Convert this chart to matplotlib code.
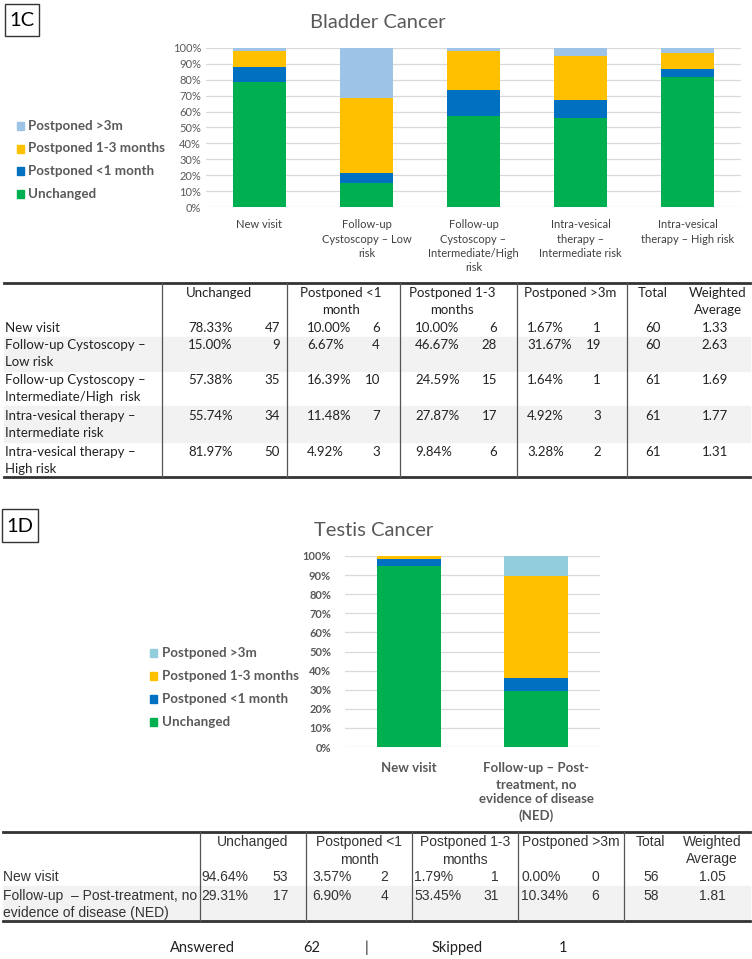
import numpy as np
import matplotlib.pyplot as plt
from matplotlib.patches import Rectangle

W, H = 752, 959

# series order bottom -> top
series = ['Unchanged', 'Postponed <1 month', 'Postponed 1-3 months', 'Postponed >3m']
colors_c = ['#00B050', '#0070C0', '#FFC000', '#9DC3E6']
colors_d = ['#00B050', '#0070C0', '#FFC000', '#92CDDC']

# 1C bladder
bladder_cats = ['New visit', 'Follow-up\nCystoscopy – Low\nrisk',
                'Follow-up\nCystoscopy –\nIntermediate/High\nrisk',
                'Intra-vesical\ntherapy –\nIntermediate risk',
                'Intra-vesical\ntherapy – High risk']
bladder_rows = ['New visit', 'Follow-up Cystoscopy –\nLow risk',
                'Follow-up Cystoscopy –\nIntermediate/High  risk',
                'Intra-vesical therapy –\nIntermediate risk',
                'Intra-vesical therapy –\nHigh risk']
bladder_unchanged = [78.33, 15.00, 57.38, 55.74, 81.97]
bladder_lt1 = [10.00, 6.67, 16.39, 11.48, 4.92]
bladder_1to3 = [10.00, 46.67, 24.59, 27.87, 9.84]
bladder_gt3 = [1.67, 31.67, 1.64, 4.92, 3.28]
bladder_n_unchanged = [47, 9, 35, 34, 50]
bladder_n_lt1 = [6, 4, 10, 7, 3]
bladder_n_1to3 = [6, 28, 15, 17, 6]
bladder_n_gt3 = [1, 19, 1, 3, 2]
bladder_total = [60, 60, 61, 61, 61]
bladder_wavg = ['1.33', '2.63', '1.69', '1.77', '1.31']

# 1D testis
testis_cats = ['New visit', 'Follow-up – Post-\ntreatment, no\nevidence of disease\n(NED)']
testis_rows = ['New visit', 'Follow-up  – Post-treatment, no\nevidence of disease (NED)']
testis_unchanged = [94.64, 29.31]
testis_lt1 = [3.57, 6.90]
testis_1to3 = [1.79, 53.45]
testis_gt3 = [0.00, 10.34]
testis_n_unchanged = [53, 17]
testis_n_lt1 = [2, 4]
testis_n_1to3 = [1, 31]
testis_n_gt3 = [0, 6]
testis_total = [56, 58]
testis_wavg = ['1.05', '1.81']

answered = 62
skipped = 1

CAL = ['Lato', 'DejaVu Sans']
ARI = ['Liberation Sans', 'DejaVu Sans']
GREY = '#595959'

fig = plt.figure(figsize=(W / 100, H / 100), dpi=100)
ov = fig.add_axes([0, 0, 1, 1], zorder=-1)
ov.set_xlim(0, W)
ov.set_ylim(H, 0)
ov.axis('off')


def ax_px(left, right, top, bottom):
    return fig.add_axes([left / W, 1 - bottom / H, (right - left) / W, (bottom - top) / H])


def lines(x, y0, s, dy, **kw):
    for i, t in enumerate(s.split('\n')):
        ov.text(x, y0 + i * dy, t, va='center', **kw)


def stacked(ax, cats, data, cols, tick_kw):
    x = np.arange(len(cats))
    bottom = np.zeros(len(cats))
    for vals, c, name in zip(data, cols, series):
        v = np.array(vals) / 100
        ax.bar(x, v, 0.5, bottom=bottom, color=c, label=name, zorder=3)
        bottom += v
    ax.set_xlim(-0.5, len(cats) - 0.5)
    ax.set_ylim(0, 1)
    ax.set_yticks(np.arange(0, 1.01, 0.1))
    ax.set_yticklabels(['%d%%' % p for p in range(0, 101, 10)])
    ax.grid(axis='y', color='#d9d9d9', lw=0.9, zorder=0)
    for s in ax.spines.values():
        s.set_visible(False)
    ax.tick_params(length=0, colors=GREY)
    ax.set_xticks(x)
    ax.set_xticklabels(cats, linespacing=1.35, **tick_kw)
    for t in ax.get_yticklabels():
        t.set_fontfamily(CAL)
        t.set_fontsize(8)
        t.set_fontweight(tick_kw.get('fontweight', 'normal'))
    ax.set_facecolor('none')


# ---------- 1C ----------
ov.add_patch(Rectangle((5, 4), 34, 32, fill=False, ec='#333333', lw=1))
ov.text(22, 20, '1C', ha='center', va='center', fontsize=14.5, family=CAL)
ov.text(378, 22, 'Bladder Cancer', ha='center', va='center', fontsize=14.5,
        family=CAL, color=GREY)
ax1 = ax_px(206, 741, 48, 207)
stacked(ax1, bladder_cats,
        [bladder_unchanged, bladder_lt1, bladder_1to3, bladder_gt3], colors_c,
        dict(fontsize=8, family=CAL, color='#404040'))
ax1.tick_params(axis='x', pad=9)

for i, (name, c) in enumerate(reversed(list(zip(series, colors_c)))):
    y = 126 + i * 22.5
    ov.add_patch(Rectangle((17, y - 4), 7, 8, color=c))
    ov.text(28, y, name, va='center', fontsize=9.6, family=CAL, weight='bold', color=GREY)

# table 1C
ov.plot([4, 750], [283, 283], color='#333333', lw=2)
ov.plot([4, 750], [477, 477], color='#333333', lw=2)
row_bands = [(337, 371), (406, 442)]
for a, b in row_bands:
    ov.add_patch(Rectangle((4, a), 746, b - a, color='#f2f2f2', zorder=0))
for xv in [162, 287, 400, 517, 627]:
    ov.plot([xv, xv], [283, 477], color='#555555', lw=0.9)
tk = dict(fontsize=9.5, family=CAL, color='#222222')
heads = ['Unchanged', 'Postponed <1\nmonth', 'Postponed 1-3\nmonths', 'Postponed >3m',
         'Total', 'Weighted\nAverage']
head_x = [219, 341, 452, 570, 653, 718]
for hx, h in zip(head_x, heads):
    lines(hx, 293, h, 16.5, ha='center', **tk)
row_y = [328, 345, 380, 416, 452]
pct_x = [188, 307, 415, 527]
cnt_x = [280, 380, 497, 601]
for r, y in enumerate(row_y):
    lines(5, y, bladder_rows[r], 17, ha='left', **tk)
    pcts = [bladder_unchanged[r], bladder_lt1[r], bladder_1to3[r], bladder_gt3[r]]
    cnts = [bladder_n_unchanged[r], bladder_n_lt1[r], bladder_n_1to3[r], bladder_n_gt3[r]]
    for px, p in zip(pct_x, pcts):
        ov.text(px, y, '%.2f%%' % p, ha='left', va='center', **tk)
    for cx, n in zip(cnt_x, cnts):
        ov.text(cx, y, str(n), ha='right', va='center', **tk)
    ov.text(653, y, str(bladder_total[r]), ha='center', va='center', **tk)
    ov.text(715, y, bladder_wavg[r], ha='center', va='center', **tk)

# ---------- 1D ----------
ov.add_patch(Rectangle((2, 509), 36, 33, fill=False, ec='#333333', lw=1))
ov.text(20, 526, '1D', ha='center', va='center', fontsize=14.5, family=CAL)
ov.text(374, 530, 'Testis Cancer', ha='center', va='center', fontsize=14.5,
        family=CAL, color=GREY)
ax2 = ax_px(345, 600, 556, 747)
stacked(ax2, testis_cats,
        [testis_unchanged, testis_lt1, testis_1to3, testis_gt3], colors_d,
        dict(fontsize=9.5, family=CAL, color=GREY, fontweight='bold'))
ax2.tick_params(axis='x', pad=11)
ax2.tick_params(axis='y', pad=10)

for i, (name, c) in enumerate(reversed(list(zip(series, colors_d)))):
    y = 653 + i * 23
    ov.add_patch(Rectangle((150, y - 4), 7, 8, color=c))
    ov.text(162, y, name, va='center', fontsize=9.6, family=CAL, weight='bold', color=GREY)

# table 1D
ov.plot([3, 750], [832, 832], color='#333333', lw=2)
ov.plot([3, 750], [921, 921], color='#333333', lw=2)
ov.add_patch(Rectangle((3, 886), 747, 34, color='#f2f2f2', zorder=0))
for xv in [200, 306, 412, 518, 624]:
    ov.plot([xv, xv], [832, 921], color='#555555', lw=0.9)
ta = dict(fontsize=10, family=ARI, color='#333333')
head_x = [253, 359, 465, 571, 651, 712]
for hx, h in zip(head_x, heads):
    lines(hx, 842, h, 17.5, ha='center', **ta)
row_y = [877, 896]
pct_x = [201, 312, 414, 521]
cnt_x = [288, 388, 499, 599]
for r, y in enumerate(row_y):
    lines(3, y, testis_rows[r], 17.5, ha='left', **ta)
    pcts = [testis_unchanged[r], testis_lt1[r], testis_1to3[r], testis_gt3[r]]
    cnts = [testis_n_unchanged[r], testis_n_lt1[r], testis_n_1to3[r], testis_n_gt3[r]]
    for px, p in zip(pct_x, pcts):
        ov.text(px, y, '%.2f%%' % p, ha='left', va='center', **ta)
    for cx, n in zip(cnt_x, cnts):
        ov.text(cx, y, str(n), ha='right', va='center', **ta)
    ov.text(651, y, str(testis_total[r]), ha='center', va='center', **ta)
    ov.text(712, y, testis_wavg[r], ha='center', va='center', **ta)

# footer
fk = dict(fontsize=10.5, family=CAL, color='#222222', va='center', ha='center')
ov.text(202, 948, 'Answered', **fk)
ov.text(312, 948, str(answered), **fk)
ov.text(367, 948, '|', **fk)
ov.text(457, 948, 'Skipped', **fk)
ov.text(563, 948, str(skipped), **fk)

fig.savefig('out.png', dpi=100)
